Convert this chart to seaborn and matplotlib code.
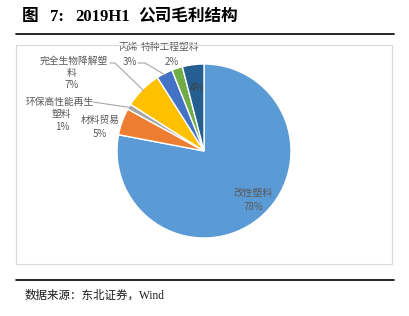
import matplotlib
matplotlib.use("Agg")
import matplotlib.pyplot as plt
import seaborn as sns
import numpy as np
from matplotlib.lines import Line2D
from matplotlib.patches import Rectangle

sns.set_theme(style="white")
plt.rcParams['font.family'] = ['Noto Sans CJK SC', 'DejaVu Sans']

# ---- data ----
categories = ["改性塑料", "材料贸易", "环保高性能再生塑料", "完全生物降解塑料", "丙烯", "特种工程塑料", "其他"]
shares = [78, 5, 1, 7, 3, 2, 4]
colors = ["#5B9BD5", "#ED7D31", "#A5A5A5", "#FFC000", "#4472C4", "#70AD47", "#255E91"]

W, H = 410, 316
fig = plt.figure(figsize=(W / 100, H / 100), dpi=100)

# pie geometry (pixels)
cx, cy, R = 204, 151, 87
ax = fig.add_axes([(cx - R) / W, (H - cy - R) / H, 2 * R / W, 2 * R / H])
wedges, _ = ax.pie(shares, colors=colors, startangle=90, counterclock=False,
                   wedgeprops=dict(edgecolor="white", linewidth=1.0))
ax.set_xlim(-1, 1)
ax.set_ylim(-1, 1)
ax.set_aspect("equal")
ax.axis("off")

def px2d(px, py):
    return (px - cx) / R, (cy - py) / R

lab_c = "#595959"
fs = 7

def label(lines, positions, color=lab_c):
    for t, (px, py) in zip(lines, positions):
        x, y = px2d(px, py)
        ax.text(x, y, t, ha="center", va="center", fontsize=fs, color=color, clip_on=False)

label(["改性塑料", "78%"], [(253, 193), (253, 207)])
label(["材料贸易", "5%"], [(100, 120), (100, 134)])
label(["环保高性能再生", "塑料", "1%"], [(60, 102), (61, 114), (62, 127)])
label(["完全生物降解塑", "料", "7%"], [(74, 61), (72, 73), (72, 85)])
label(["丙烯", "3%"], [(128, 47), (130, 62)])
label(["特种工程塑料", "2%"], [(170, 47), (172, 62)])
label(["4%"], [(197, 88)], color="#404040")

def wedge_pt(i, r=1.0):
    w = wedges[i]
    a = np.deg2rad((w.theta1 + w.theta2) / 2)
    return r * np.cos(a), r * np.sin(a)

def leader(i, pts_px, r=0.98):
    xs, ys = [], []
    for px, py in pts_px:
        x, y = px2d(px, py)
        xs.append(x); ys.append(y)
    ex, ey = wedge_pt(i, r)
    xs.append(ex); ys.append(ey)
    ax.add_line(Line2D(xs, ys, color="#A6A6A6", linewidth=0.8, clip_on=False))

leader(3, [(110, 63), (115, 63)])
leader(4, [(138, 63), (145, 63)])
leader(2, [(93, 102)])

# ---- frame / title / source ----
fig.patches.append(Rectangle((16 / W, 1 - 264 / H), (392 - 16) / W, (264 - 45) / H,
                             transform=fig.transFigure, fill=False,
                             edgecolor="#D9D9D9", linewidth=0.8))
fig.add_artist(Line2D([16 / W, 394 / W], [1 - 34 / H, 1 - 34 / H], color="black", linewidth=1.2,
                      transform=fig.transFigure))
fig.add_artist(Line2D([16 / W, 394 / W], [1 - 280 / H, 1 - 280 / H], color="black", linewidth=1.2,
                      transform=fig.transFigure))

serif = ["Liberation Serif", "Noto Sans CJK SC"]
title_parts = [("图", 22), ("7:", 50), ("2019H1", 75), ("公司毛利结构", 138)]
for t, px in title_parts:
    fig.text(px / W, 1 - 17 / H, t, ha="left", va="center",
             fontsize=12, fontweight="bold", color="black", family=serif)
fig.text(25 / W, 1 - 296 / H, "数据来源：东北证券，Wind", ha="left", va="center",
         fontsize=8.3, color="#1a1a1a", family=serif)

fig.savefig("out.png", dpi=100, facecolor="white")
